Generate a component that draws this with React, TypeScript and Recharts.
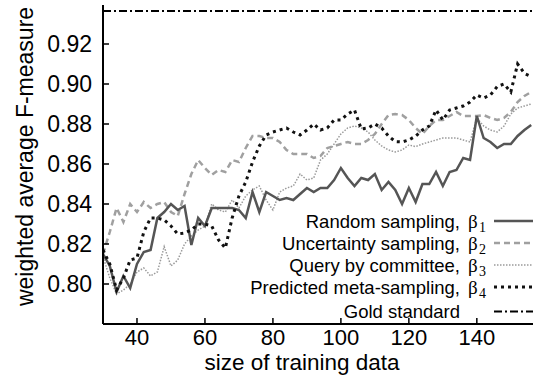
import { LineChart, Line, XAxis, YAxis, ReferenceLine, Legend } from 'recharts';

// training-set sizes (x), every 2 samples
const sizes = [
  30, 32, 34, 36, 38, 40, 42, 44, 46, 48, 50, 52, 54, 56, 58, 60,
  62, 64, 66, 68, 70, 72, 74, 76, 78, 80, 82, 84, 86, 88, 90, 92,
  94, 96, 98, 100, 102, 104, 106, 108, 110, 112, 114, 116, 118, 120, 122, 124,
  126, 128, 130, 132, 134, 136, 138, 140, 142, 144, 146, 148, 150, 152, 154, 156,
];

const randomSampling = [
  0.815, 0.809, 0.796, 0.804, 0.798, 0.81, 0.816, 0.817, 0.833, 0.836, 0.84, 0.837, 0.839, 0.8195, 0.833, 0.829,
  0.838, 0.838, 0.838, 0.838, 0.837, 0.833, 0.846, 0.836, 0.846, 0.844, 0.842, 0.843, 0.842, 0.845, 0.848, 0.846,
  0.848, 0.848, 0.852, 0.858, 0.853, 0.849, 0.853, 0.852, 0.855, 0.847, 0.851, 0.847, 0.84, 0.848, 0.841, 0.85,
  0.85, 0.856, 0.849, 0.856, 0.857, 0.863, 0.862, 0.884, 0.873, 0.871, 0.868, 0.87, 0.87, 0.874, 0.877, 0.8795,
];

const uncertaintySampling = [
  0.815, 0.826, 0.838, 0.831, 0.84, 0.836, 0.841, 0.838, 0.84, 0.841, 0.836, 0.834, 0.845, 0.855, 0.862, 0.858,
  0.8545, 0.857, 0.856, 0.862, 0.861, 0.868, 0.874, 0.874, 0.873, 0.873, 0.871, 0.867, 0.865, 0.865, 0.865, 0.863,
  0.864, 0.868, 0.869, 0.87, 0.871, 0.87, 0.87, 0.872, 0.875, 0.88, 0.8845, 0.885, 0.8845, 0.882, 0.878, 0.875,
  0.879, 0.882, 0.882, 0.884, 0.886, 0.884, 0.884, 0.884, 0.8845, 0.883, 0.882, 0.883, 0.886, 0.891, 0.894, 0.896,
];

const queryByCommittee = [
  0.8137, 0.803, 0.795, 0.797, 0.8, 0.806, 0.808, 0.804, 0.806, 0.8187, 0.809, 0.812, 0.82, 0.824, 0.827, 0.829,
  0.84, 0.837, 0.836, 0.842, 0.838, 0.844, 0.847, 0.849, 0.842, 0.837, 0.846, 0.848, 0.849, 0.855, 0.852, 0.853,
  0.862, 0.865, 0.87, 0.875, 0.878, 0.879, 0.878, 0.876, 0.872, 0.869, 0.867, 0.866, 0.867, 0.8695, 0.8687, 0.87,
  0.871, 0.872, 0.873, 0.873, 0.873, 0.872, 0.871, 0.883, 0.879, 0.877, 0.876, 0.879, 0.885, 0.888, 0.889, 0.89,
];

const predictedMeta = [
  0.817, 0.81, 0.797, 0.803, 0.812, 0.813, 0.826, 0.833, 0.833, 0.832, 0.829, 0.825, 0.8255, 0.827, 0.83, 0.83,
  0.829, 0.822, 0.818, 0.833, 0.844, 0.851, 0.861, 0.869, 0.8745, 0.876, 0.877, 0.878, 0.876, 0.8745, 0.877, 0.88,
  0.877, 0.878, 0.882, 0.882, 0.885, 0.887, 0.8775, 0.878, 0.88, 0.878, 0.874, 0.8712, 0.871, 0.872, 0.874, 0.877,
  0.879, 0.887, 0.882, 0.887, 0.888, 0.889, 0.891, 0.8945, 0.893, 0.8945, 0.8987, 0.9, 0.896, 0.91, 0.9053, 0.9037,
];

const goldStandard = 0.9365;

const xTicks = [40, 60, 80, 100, 120, 140];
const yTicks = [0.8, 0.82, 0.84, 0.86, 0.88, 0.9, 0.92];

const legendNames = [
  'Random sampling,',
  'Uncertainty sampling,',
  'Query by committee,',
  'Predicted meta-sampling,',
  'Gold standard',
];
const legendSubscripts = ['1', '2', '3', '4', ''];

const FONT = "'Liberation Sans', Arial, Helvetica, sans-serif";
const SERIF = "'Liberation Serif', 'DejaVu Serif', serif";

// stroke styles, in legend order
const styles = [
  { stroke: '#555555', width: 2.5, dash: undefined },
  { stroke: '#a0a0a0', width: 2.5, dash: '6 4' },
  { stroke: '#9a9a9a', width: 1.5, dash: '1.5 1.5' },
  { stroke: '#111111', width: 3, dash: '3 4' },
  { stroke: '#000000', width: 2, dash: '8 3 2 3' },
];

const data = sizes.map((size, i) => ({
  size,
  random: randomSampling[i],
  uncertainty: uncertaintySampling[i],
  committee: queryByCommittee[i],
  predicted: predictedMeta[i],
}));

function YTick({ x, y, payload }: any) {
  return (
    <g>
      <line x1={x + 11} x2={x + 17} y1={y} y2={y} stroke="#000" strokeWidth={1.5} />
      <text x={x} y={y} dy={8} textAnchor="end" fontSize={23} fontFamily={FONT} fill="#000">
        {Number(payload.value).toFixed(2)}
      </text>
    </g>
  );
}

function XTick({ x, y, payload }: any) {
  return (
    <g>
      <line x1={x} x2={x} y1={y} y2={y - 6} stroke="#000" strokeWidth={1.5} />
      <text x={x} y={y + 21} textAnchor="middle" fontSize={22} fontFamily={FONT} fill="#000">
        {payload.value}
      </text>
    </g>
  );
}

function YLabel({ viewBox }: any) {
  const cx = viewBox.x + 33;
  const cy = viewBox.y + viewBox.height / 2 - 8;
  return (
    <text
      x={cx}
      y={cy}
      transform={`rotate(-90 ${cx} ${cy})`}
      textAnchor="middle"
      fontSize={23}
      fontFamily={FONT}
      fill="#000"
    >
      weighted average F-measure
    </text>
  );
}

function XLabel({ viewBox }: any) {
  return (
    <text
      x={viewBox.x + 199}
      y={viewBox.y + 46}
      textAnchor="middle"
      fontSize={22.5}
      fontFamily={FONT}
      fill="#000"
    >
      size of training data
    </text>
  );
}

function KeyBox() {
  const baselines = [227.5, 249.5, 271.5, 293.5, 318];
  return (
    <svg width={538} height={376} style={{ display: 'block', pointerEvents: 'none' }}>
      {legendNames.map((name, i) => {
        const base = baselines[i];
        const s = styles[i];
        return (
          <g key={name}>
            <text x={460} y={base} textAnchor="end" fontSize={18.5} fontFamily={FONT} fill="#000">
              {name}
            </text>
            {legendSubscripts[i] && (
              <>
                <text x={468} y={base} fontSize={19} fontFamily={SERIF} fill="#000">
                  β
                </text>
                <text x={479} y={base + 4} fontSize={14} fontFamily={SERIF} fill="#000">
                  {legendSubscripts[i]}
                </text>
              </>
            )}
            <line
              x1={494}
              x2={538}
              y1={base - 6.5}
              y2={base - 6.5}
              stroke={s.stroke}
              strokeWidth={s.width}
              strokeDasharray={s.dash}
            />
          </g>
        );
      })}
    </svg>
  );
}

export default function App() {
  return (
    <div style={{ position: 'absolute', left: 0, top: 0, width: 533, height: 376, overflow: 'hidden', background: '#fff' }}>
      <LineChart width={538} height={376} data={data} margin={{ top: 5, right: 0, bottom: 0, left: 0 }}>
        <XAxis
          dataKey="size"
          type="number"
          domain={[30, 158]}
          ticks={xTicks}
          allowDataOverflow
          height={52}
          axisLine={{ stroke: '#000', strokeWidth: 2 }}
          tickLine={false}
          tickSize={0}
          tickMargin={0}
          tick={<XTick />}
          label={<XLabel />}
        />
        <XAxis
          xAxisId="top"
          orientation="top"
          type="number"
          domain={[30, 158]}
          ticks={xTicks}
          allowDataOverflow
          height={0}
          mirror
          tick={false}
          tickSize={6}
          tickLine={{ stroke: '#000', strokeWidth: 1.5 }}
          axisLine={{ stroke: '#000', strokeWidth: 2 }}
        />
        <YAxis
          type="number"
          domain={[0.78, 0.9395]}
          ticks={yTicks}
          allowDataOverflow
          width={103}
          axisLine={{ stroke: '#000', strokeWidth: 2 }}
          tickLine={false}
          tickSize={0}
          tickMargin={11}
          tick={<YTick />}
          label={<YLabel />}
        />
        <ReferenceLine
          y={goldStandard}
          stroke={styles[4].stroke}
          strokeWidth={styles[4].width}
          strokeDasharray={styles[4].dash}
        />
        <Line dataKey="committee" type="linear" dot={false} isAnimationActive={false}
          stroke={styles[2].stroke} strokeWidth={styles[2].width} strokeDasharray={styles[2].dash} />
        <Line dataKey="uncertainty" type="linear" dot={false} isAnimationActive={false}
          stroke={styles[1].stroke} strokeWidth={styles[1].width} strokeDasharray={styles[1].dash} />
        <Line dataKey="random" type="linear" dot={false} isAnimationActive={false}
          stroke={styles[0].stroke} strokeWidth={styles[0].width} />
        <Line dataKey="predicted" type="linear" dot={false} isAnimationActive={false}
          stroke={styles[3].stroke} strokeWidth={styles[3].width} strokeDasharray={styles[3].dash} />
        <Legend
          layout="vertical"
          align="center"
          verticalAlign="middle"
          content={() => <KeyBox />}
          wrapperStyle={{ left: 0, top: 0, width: 538, height: 376 }}
        />
      </LineChart>
    </div>
  );
}
